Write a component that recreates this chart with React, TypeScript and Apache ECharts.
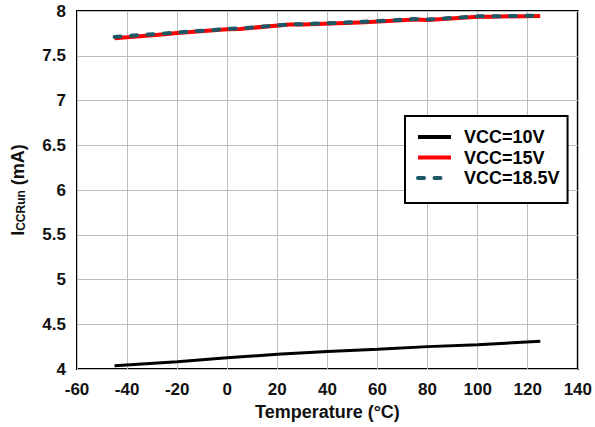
import React, { useEffect, useRef } from "react";
import * as echarts from "echarts";

const seriesNames = ["VCC=10V", "VCC=15V", "VCC=18.5V"];
const vcc10: [number, number][] = [
  [-45, 4.035], [-20, 4.08], [0, 4.125], [20, 4.165], [40, 4.195],
  [60, 4.22], [80, 4.25], [100, 4.272], [125, 4.31],
];
const vcc15: [number, number][] = [
  [-45, 7.695], [-25, 7.74], [-20, 7.755], [0, 7.795], [5, 7.8],
  [25, 7.85], [30, 7.85], [50, 7.87], [55, 7.875], [75, 7.905],
  [80, 7.9], [100, 7.935], [105, 7.937], [125, 7.945],
];
const vcc185: [number, number][] = [
  [-45, 7.71], [-25, 7.75], [-20, 7.76], [0, 7.8], [5, 7.805],
  [25, 7.85], [30, 7.852], [50, 7.875], [55, 7.88], [75, 7.91],
  [80, 7.905], [100, 7.94], [105, 7.94], [125, 7.948],
];

const FONT = "'Liberation Sans', Arial, sans-serif";

export default function App() {
  const ref = useRef<HTMLDivElement>(null);
  useEffect(() => {
    if (!ref.current) return;
    const chart = echarts.init(ref.current, undefined, { renderer: "svg" });
    chart.setOption({
      animation: false,
      textStyle: { fontFamily: FONT },
      grid: {
        left: 77, right: 15, top: 11, bottom: 58,
        show: true, borderColor: "#000", borderWidth: 2,
      },
      xAxis: {
        type: "value", min: -60, max: 140, interval: 20,
        name: "Temperature (°C)", nameLocation: "middle", nameGap: 34,
        nameTextStyle: { fontSize: 18, fontWeight: "bold", color: "#111", fontFamily: FONT },
        axisLine: { show: false }, axisTick: { show: false },
        axisLabel: { fontSize: 17, fontWeight: "bold", color: "#111", margin: 12, fontFamily: FONT },
        splitLine: { show: true, lineStyle: { color: "#bdbdbd", width: 1 } },
      },
      yAxis: {
        type: "value", min: 4, max: 8, interval: 0.5,
        name: "{a|I}{b|CCRun}{a| (mA)}", nameLocation: "middle", nameGap: 50,
        nameRotate: 90,
        nameTextStyle: {
          fontFamily: FONT,
          rich: {
            a: { fontSize: 18, fontWeight: "bold", color: "#111", lineHeight: 24, verticalAlign: "bottom", fontFamily: FONT },
            b: { fontSize: 12, fontWeight: "bold", color: "#111", lineHeight: 18, verticalAlign: "bottom", fontFamily: FONT },
          },
        },
        axisLine: { show: false }, axisTick: { show: false },
        axisLabel: { fontSize: 17, fontWeight: "bold", color: "#111", margin: 11, fontFamily: FONT },
        splitLine: { show: true, lineStyle: { color: "#bdbdbd", width: 1 } },
      },
      legend: {
        orient: "vertical", left: 405, top: 116,
        padding: [11, 8, 15, 11],
        borderColor: "#000", borderWidth: 2, backgroundColor: "#fff",
        itemWidth: 33, itemHeight: 14, itemGap: 0.5,
        itemStyle: { opacity: 0 },
        lineStyle: { width: 4 },
        textStyle: { fontSize: 18, fontWeight: "bold", color: "#000", lineHeight: 20, padding: [0, 0, 0, 8], fontFamily: FONT },
        data: seriesNames,
      },
      series: [
        {
          name: seriesNames[0], type: "line", data: vcc10, symbol: "none",
          lineStyle: { color: "#000", width: 3 }, itemStyle: { color: "#000" },
        },
        {
          name: seriesNames[1], type: "line", data: vcc15, symbol: "none",
          lineStyle: { color: "#ff0000", width: 4 }, itemStyle: { color: "#ff0000" },
        },
        {
          name: seriesNames[2], type: "line", data: vcc185, symbol: "none",
          lineStyle: { color: "#1d5866", width: 4, type: [6, 10.5], cap: "round" },
          itemStyle: { color: "#1d5866" },
        },
      ],
    });
    return () => chart.dispose();
  }, []);
  return <div ref={ref} style={{ width: 595, height: 427, position: "absolute", left: 0, top: 0 }} />;
}
